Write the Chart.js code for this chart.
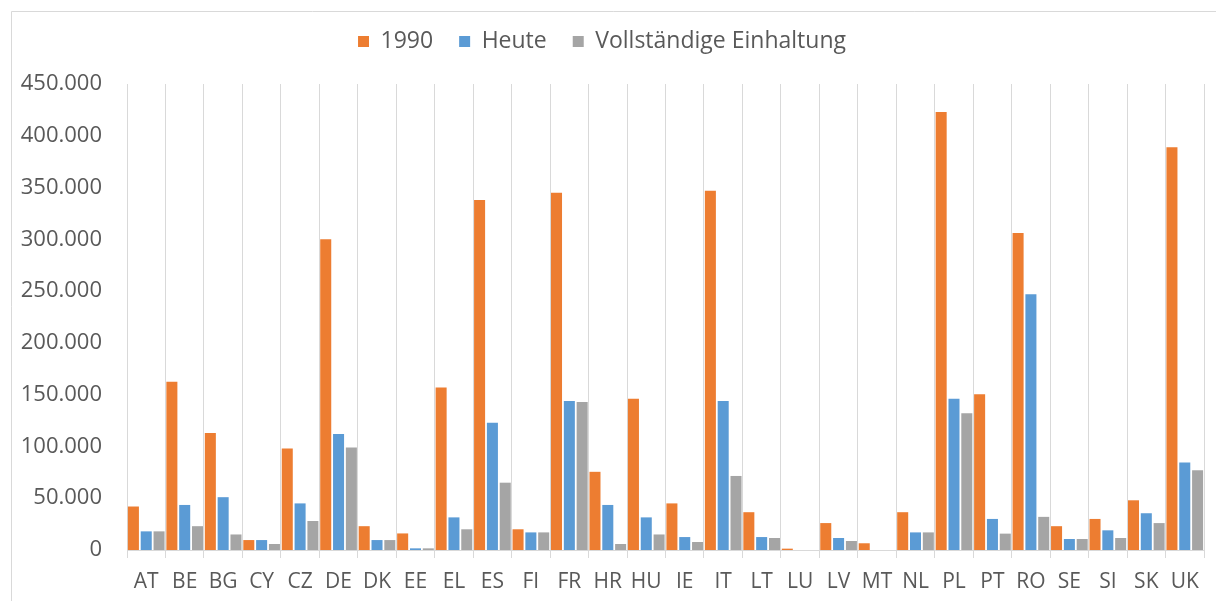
<!DOCTYPE html>
<html>
<head>
<meta charset="utf-8">
<script src="https://cdn.jsdelivr.net/npm/chart.js@4/dist/chart.umd.min.js"></script>
<style>
  html, body { margin: 0; padding: 0; background: #fff; }
  #wrap { width: 1216px; height: 601px; }
</style>
</head>
<body>
<div id="wrap"><canvas id="emChart" width="1216" height="601"></canvas></div>
<script>
// Laender (x-Achse)
const countries = ["AT","BE","BG","CY","CZ","DE","DK","EE","EL","ES","FI","FR","HR","HU","IE","IT","LT","LU","LV","MT","NL","PL","PT","RO","SE","SI","SK","UK"];

// Werte je Serie
const values1990 = [42000,162500,113000,9600,98000,300000,23000,16000,157000,338000,20000,345000,75500,146000,45000,347000,36500,1300,26000,6500,36500,423000,150500,306000,23000,30000,48000,389000];
const valuesHeute = [18000,43500,51000,9600,45000,112000,9600,1600,31500,123000,17000,144000,43500,31500,12500,144000,12500,0,11600,0,17000,146000,30000,247000,10600,19000,35500,84500];
const valuesVoll = [18000,23000,15000,5800,28000,99000,9600,1600,20000,65000,17000,143000,5800,15000,7700,71500,11600,0,8700,0,17000,132000,15800,32000,10600,11600,26000,77000];

const seriesNames = ["1990", "Heute", "Vollständige Einhaltung"];

// y-Achse
const yMax = 450000;
const yStep = 50000;

const textColor = "#595959";
const lineColor = "#d9d9d9";
const fontFamily = "'Open Sans', 'Liberation Sans', sans-serif";

// deutsches Tausendertrennzeichen
function fmt(v) {
  return String(v).replace(/\B(?=(\d{3})+(?!\d))/g, ".");
}

// duenner Rahmen wie im Excel-Diagrammbereich
const frame = {
  id: "frame",
  afterInit(chart) {
    // feste Hoehe fuer die Legende, damit der Plotbereich bei y=84 anfaengt
    const fit = chart.legend.fit;
    chart.legend.fit = function () {
      fit.call(this);
      this.height = 80;
    };
  },
  beforeDraw(chart) {
    const c = chart.ctx;
    c.save();
    c.fillStyle = "#fff";
    c.fillRect(0, 0, chart.width, chart.height);
    c.strokeStyle = lineColor;
    c.lineWidth = 1;
    c.beginPath();
    c.moveTo(11.5, chart.height);
    c.lineTo(11.5, 11.5);
    c.lineTo(chart.width, 11.5);
    c.stroke();
    c.restore();
  }
};

function makeSet(label, data, color) {
  return {
    label,
    data,
    backgroundColor: color,
    borderWidth: 0,
    categoryPercentage: 1.0,
    barPercentage: 0.86
  };
}

const ctx = document.getElementById("emChart").getContext("2d");
const chart = new Chart(ctx, {
  type: "bar",
  data: {
    labels: countries,
    datasets: [
      makeSet(seriesNames[0], values1990, "#ed7d31"),
      makeSet(seriesNames[1], valuesHeute, "#5b9bd5"),
      makeSet(seriesNames[2], valuesVoll, "#a5a5a5")
    ]
  },
  options: {
    responsive: false,
    animation: false,
    maintainAspectRatio: false,
    layout: { padding: { top: 4, right: 12, bottom: 0, left: 0 } },
    plugins: {
      legend: {
        position: "top",
        labels: {
          boxWidth: 11,
          boxHeight: 11,
          padding: 26,
          color: textColor,
          font: { family: fontFamily, size: 23 }
        }
      },
      tooltip: { enabled: false }
    },
    scales: {
      x: {
        grid: {
          offset: true,
          color: lineColor,
          drawTicks: true,
          tickLength: 8
        },
        border: { display: true, color: lineColor },
        ticks: {
          color: textColor,
          padding: 11,
          maxRotation: 0,
          autoSkip: false,
          font: { family: fontFamily, size: 21 }
        },
        afterFit(scale) { scale.height = 51; }
      },
      y: {
        min: 0,
        max: yMax,
        grid: { display: false, drawTicks: false },
        border: { display: false },
        ticks: {
          stepSize: yStep,
          color: textColor,
          padding: 25,
          font: { family: fontFamily, size: 22 },
          callback: v => fmt(v)
        },
        afterFit(scale) { scale.width = 127; }
      }
    }
  },
  plugins: [frame]
});
</script>
</body>
</html>
